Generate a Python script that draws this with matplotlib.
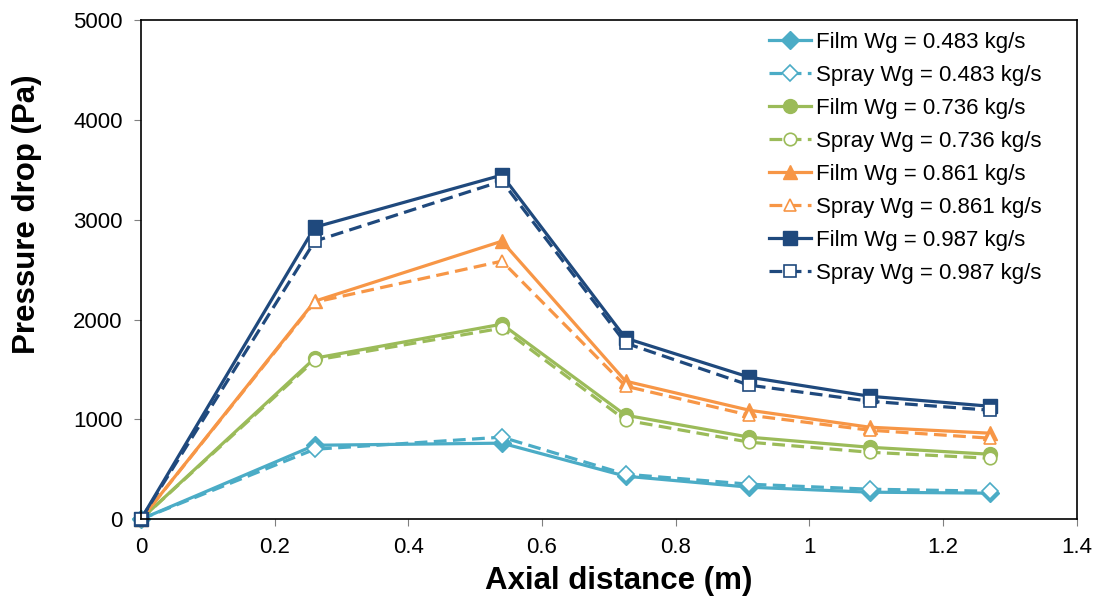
import matplotlib
matplotlib.use('Agg')
import matplotlib.pyplot as plt

plt.rcParams['font.family'] = ['Liberation Sans', 'DejaVu Sans']

# Axial positions of the pressure taps (m)
x = [0, 0.26, 0.54, 0.725, 0.91, 1.09, 1.27]

# Pressure drop (Pa) for each gas flow rate, film vs spray injection
film_0483 = [0, 741, 762, 431, 321, 271, 261]
spray_0483 = [0, 701, 822, 451, 351, 301, 281]
film_0736 = [0, 1613, 1954, 1042, 822, 721, 651]
spray_0736 = [0, 1593, 1914, 992, 772, 671, 611]
film_0861 = [0, 2184, 2785, 1383, 1092, 922, 862]
spray_0861 = [0, 2174, 2585, 1333, 1042, 892, 812]
film_0987 = [0, 2925, 3447, 1814, 1423, 1232, 1132]
spray_0987 = [0, 2785, 3387, 1764, 1343, 1182, 1092]

series = [
    ('Film Wg = 0.483 kg/s', film_0483, '#4BACC6', 'D', True),
    ('Spray Wg = 0.483 kg/s', spray_0483, '#4BACC6', 'D', False),
    ('Film Wg = 0.736 kg/s', film_0736, '#9BBB59', 'o', True),
    ('Spray Wg = 0.736 kg/s', spray_0736, '#9BBB59', 'o', False),
    ('Film Wg = 0.861 kg/s', film_0861, '#F79646', '^', True),
    ('Spray Wg = 0.861 kg/s', spray_0861, '#F79646', '^', False),
    ('Film Wg = 0.987 kg/s', film_0987, '#1F497D', 's', True),
    ('Spray Wg = 0.987 kg/s', spray_0987, '#1F497D', 's', False),
]

fig = plt.figure(figsize=(11.01, 6.08), dpi=100)
ax = fig.add_axes([0.128, 0.146, 0.850, 0.821])

for label, y, color, marker, filled in series:
    ms = 9 if marker == 'D' else 10
    if filled:
        ax.plot(x, y, color=color, lw=2.3, marker=marker, ms=ms,
                mfc=color, mec=color, label=label, clip_on=False)
    else:
        ax.plot(x, y, color=color, lw=2.3, ls=(0, (4, 2)), marker=marker, ms=ms - 1,
                mfc='white', mec=color, mew=1.2, label=label, clip_on=False)

ax.set_xlim(0, 1.4)
ax.set_ylim(0, 5000)
ax.set_xticks([0, 0.2, 0.4, 0.6, 0.8, 1, 1.2, 1.4])
ax.set_xticklabels(['0', '0.2', '0.4', '0.6', '0.8', '1', '1.2', '1.4'])
ax.set_yticks([0, 1000, 2000, 3000, 4000, 5000])
ax.tick_params(direction='out', length=5, width=0.8, color='#808080',
               labelsize=16, pad=8)
for sp in ax.spines.values():
    sp.set_color('black')
    sp.set_linewidth(1.2)

ax.set_xlabel('Axial distance (m)', fontsize=22.5, fontweight='bold')
ax.set_ylabel('Pressure drop (Pa)', fontsize=22.5, fontweight='bold')
ax.xaxis.set_label_coords(0.51, -0.094)
ax.yaxis.set_label_coords(-0.106, 0.61)

ax.legend(loc='upper left', bbox_to_anchor=(0.671, 0.976), frameon=False,
          fontsize=16, handlelength=1.9, handletextpad=0.2, labelspacing=0.54,
          borderpad=0, borderaxespad=0)

fig.savefig('out.png', dpi=100)
